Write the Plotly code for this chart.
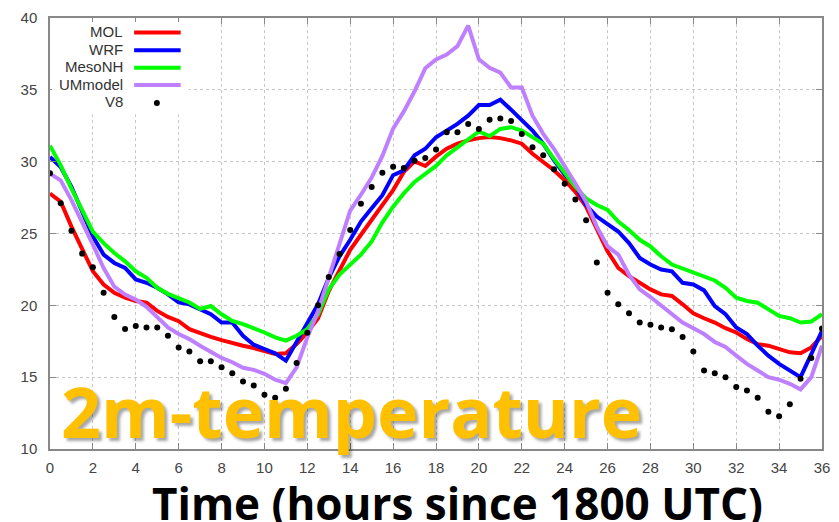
import plotly.graph_objects as go

# Forecast hours (every 30 min, 18 UTC start)
hours = [i * 0.5 for i in range(73)]

mol = [27.78, 27.21, 25.48, 23.87, 22.37, 21.45, 20.87, 20.53, 20.30, 20.18, 19.61, 19.19,
       18.90, 18.34, 18.04, 17.81, 17.58, 17.35, 17.19, 17.03, 16.80, 16.61, 16.66, 17.30,
       18.11, 19.10, 20.99, 22.49, 23.87, 24.91, 25.95, 26.98, 28.02, 29.29, 30.02, 29.70,
       30.35, 30.90, 31.25, 31.48, 31.64, 31.71, 31.64, 31.48, 31.25, 30.55, 29.98, 29.40,
       28.71, 27.90, 26.87, 25.25, 23.76, 22.60, 22.03, 21.57, 21.11, 20.76, 20.65, 20.07,
       19.45, 19.10, 18.80, 18.41, 18.11, 17.65, 17.30, 17.19, 16.96, 16.73, 16.66, 17.07,
       17.88]

wrf = [30.32, 29.63, 28.25, 26.52, 24.79, 23.53, 22.95, 22.60, 21.80, 21.57, 21.22, 20.76,
       20.20, 20.07, 19.72, 19.38, 18.80, 18.80, 17.88, 17.26, 16.96, 16.66, 16.15, 17.42,
       18.70, 20.07, 21.91, 23.41, 24.56, 25.83, 26.75, 27.67, 29.06, 29.40, 30.44, 30.90,
       31.70, 32.17, 32.63, 33.20, 33.94, 33.94, 34.31, 33.62, 32.86, 32.17, 31.25, 30.10,
       29.10, 28.36, 26.98, 26.18, 25.65, 25.14, 24.33, 23.30, 22.84, 22.49, 22.37, 21.57,
       21.45, 21.04, 19.95, 19.38, 18.46, 18.00, 17.19, 16.50, 15.92, 15.46, 15.00, 16.61,
       18.23]

mesonh = [31.12, 29.74, 28.13, 26.63, 25.13, 24.33, 23.64, 23.06, 22.37, 21.91, 21.22, 20.80,
          20.50, 20.20, 19.75, 19.95, 19.38, 18.92, 18.69, 18.41, 18.11, 17.77, 17.54, 17.88,
          18.34, 19.38, 21.11, 22.14, 22.84, 23.53, 24.45, 25.78, 26.87, 27.79, 28.59, 29.17,
          29.70, 30.44, 31.01, 31.59, 32.10, 31.78, 32.28, 32.40, 32.17, 31.71, 31.25, 30.20,
          29.20, 28.25, 27.44, 26.98, 26.64, 25.83, 25.25, 24.56, 24.10, 23.41, 22.84, 22.56,
          22.35, 22.03, 21.73, 21.22, 20.53, 20.30, 20.18, 19.72, 19.26, 19.10, 18.80, 18.87,
          19.38]

ummodel = [29.16, 28.70, 27.32, 25.83, 24.22, 22.60, 21.30, 20.75, 20.40, 19.90, 19.20, 18.46,
           18.00, 17.65, 17.19, 16.73, 16.34, 16.04, 15.65, 15.51, 15.23, 14.82, 14.59, 15.69,
           17.77, 19.60, 21.90, 24.20, 26.60, 27.70, 28.90, 30.40, 32.30, 33.50, 34.90, 36.50,
           37.12, 37.46, 38.04, 39.47, 37.12, 36.54, 36.20, 35.16, 35.16, 33.20, 31.94, 30.90,
           29.75, 28.48, 27.21, 25.48, 24.10, 23.53, 22.14, 21.11, 20.58, 19.96, 19.38, 18.80,
           18.40, 18.00, 17.45, 17.10, 16.50, 15.92, 15.46, 15.00, 14.82, 14.54, 14.15, 15.00,
           17.19]

v8 = [29.20, 27.10, 25.20, 23.60, 22.65, 20.87, 19.19, 18.36, 18.57, 18.45, 18.45, 17.88,
      17.07, 16.79, 16.10, 16.10, 15.69, 15.27, 14.70, 14.42, 13.78, 13.57, 14.19, 15.99,
      18.09, 20.00, 21.98, 23.57, 25.25, 27.07, 28.24, 29.23, 29.65, 29.56, 30.06, 30.25,
      30.85, 32.05, 32.05, 32.62, 32.27, 32.92, 33.01, 32.83, 31.93, 31.01, 30.44, 29.47,
      28.47, 27.37, 25.92, 22.99, 20.87, 20.07, 19.45, 18.80, 18.64, 18.45, 18.34, 17.79,
      16.79, 15.46, 15.27, 15.00, 14.31, 14.08, 13.57, 12.60, 12.28, 13.11, 14.89, 16.34,
      18.38]

model_names = ["MOL", "WRF", "MesoNH", "UMmodel"]
model_series = [mol, wrf, mesonh, ummodel]
model_colors = ["#ff0000", "#0000ff", "#00ff00", "#bf80ff"]
obs_name = "V8"

x_ticks = list(range(0, 37, 2))
y_ticks = list(range(10, 41, 5))

W, H = 839, 522
L, R, T, B = 50, 9, 15, 73
PW, PH = W - L - R, H - T - B


def px(xp):
    return (xp - L) / PW


def py(yp):
    return (H - B - yp) / PH


fig = go.Figure()
for name, vals, col in zip(model_names, model_series, model_colors):
    fig.add_trace(go.Scatter(x=hours, y=vals, mode="lines", name=name,
                             line=dict(color=col, width=4), showlegend=False))
fig.add_trace(go.Scatter(x=hours, y=v8, mode="markers", name=obs_name,
                         marker=dict(color="black", size=6), showlegend=False))

shapes = []
annotations = []

# key box in the upper-left corner
shapes.append(dict(type="rect", xref="paper", yref="paper",
                   x0=px(52), x1=px(190), y0=py(112), y1=py(19),
                   fillcolor="white", line=dict(width=0), layer="above"))
row_y = [29.5, 47.5, 65, 82.5, 100.5]
labels = model_names + [obs_name]
for i, lab in enumerate(labels):
    annotations.append(dict(text=lab, xref="paper", yref="paper", x=px(126), y=py(row_y[i] - 1),
                            xanchor="right", yanchor="middle", showarrow=False,
                            font=dict(family="Liberation Sans", size=15, color="#333333")))
    if i < len(model_colors):
        shapes.append(dict(type="line", xref="paper", yref="paper",
                           x0=px(135), x1=px(182), y0=py(row_y[i]), y1=py(row_y[i]),
                           line=dict(color=model_colors[i], width=4), layer="above"))
    else:
        r = 3
        shapes.append(dict(type="circle", xref="paper", yref="paper",
                           x0=px(158 - r), x1=px(158 + r), y0=py(row_y[i] + r), y1=py(row_y[i] - r),
                           fillcolor="black", line=dict(width=0), layer="above"))

# big overlay label
annotations.append(dict(text="<b>2m-temperature</b>", xref="paper", yref="paper",
                        x=px(59), y=py(411), xanchor="left", yanchor="middle", showarrow=False,
                        font=dict(family="Open Sans", size=70, color="#ffc000",
                                  shadow="3px 3px 3px rgba(0,0,0,0.35)")))

# axis caption
annotations.append(dict(text="<b>Time (hours since 1800 UTC)</b>", xref="paper", yref="paper",
                        x=px(462), y=py(503), xanchor="center", yanchor="middle", showarrow=False,
                        font=dict(family="Open Sans", size=44, color="black")))

axis_common = dict(showline=True, linecolor="#888888", linewidth=1.5, mirror="ticks",
                   ticks="inside", ticklen=6, tickcolor="#888888", tickwidth=1,
                   showgrid=True, gridcolor="#c8c8c8", griddash="dot", gridwidth=1,
                   zeroline=False,
                   tickfont=dict(family="Liberation Sans", size=15, color="#444444"))

fig.update_layout(
    width=W, height=H,
    margin=dict(l=L, r=R, t=T, b=B),
    paper_bgcolor="white", plot_bgcolor="white",
    xaxis=dict(range=[0, 36], tickvals=x_ticks, ticklabelstandoff=4, **axis_common),
    yaxis=dict(range=[10, 40], tickvals=y_ticks, ticklabelstandoff=8, **axis_common),
    shapes=shapes, annotations=annotations,
)

fig.write_html("out.html")
